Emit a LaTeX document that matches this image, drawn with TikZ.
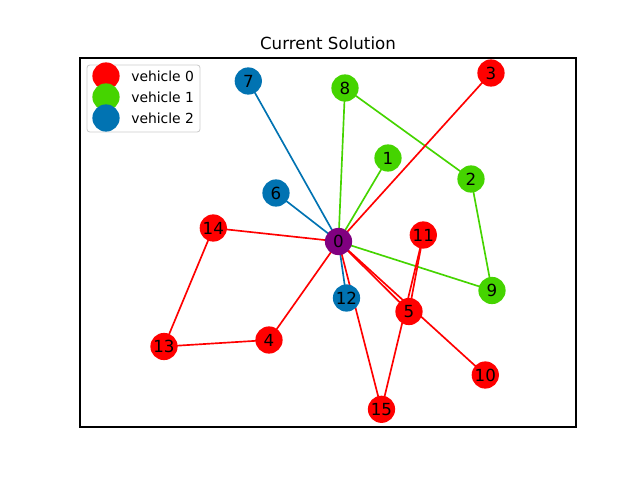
\documentclass[tikz,border=0pt]{standalone}
\usepackage{fontspec}
\setmainfont{DejaVu Sans}
\begin{document}
\begin{tikzpicture}[x=0.72pt,y=-0.72pt]
\definecolor{vred}{HTML}{FF0000}
\definecolor{vgreen}{HTML}{45D400}
\definecolor{vblue}{HTML}{0173B2}
\definecolor{vpurple}{HTML}{800080}
\tikzset{
  vnode/.style={circle,minimum size=19.6pt,inner sep=0pt,font=\fontsize{12}{14}\selectfont},
  rn/.style={vnode,fill=vred},
  gn/.style={vnode,fill=vgreen},
  bn/.style={vnode,fill=vblue},
  dn/.style={vnode,fill=vpurple},
  re/.style={draw=vred,line width=1.2pt},
  ge/.style={draw=vgreen,line width=1.2pt},
  be/.style={draw=vblue,line width=1.2pt},
  lmark/.style={circle,minimum size=19.6pt,inner sep=0pt},
  ltext/.style={anchor=west,font=\fontsize{10}{12}\selectfont,inner sep=0pt}
}
\useasboundingbox (0,0) rectangle (640,480);
\node[font=\fontsize{12}{14}\selectfont] (title) at (328,43) {Current Solution};
\draw[line width=0.8pt] (80,58) rectangle (576,427);
% node positions
\coordinate (p0) at (338.5,241.5);
\coordinate (p1) at (388,158);
\coordinate (p2) at (471,179);
\coordinate (p3) at (491,73);
\coordinate (p4) at (269,340);
\coordinate (p5) at (409,311.5);
\coordinate (p6) at (276,193);
\coordinate (p7) at (248.3,81);
\coordinate (p8) at (345,88);
\coordinate (p9) at (492,290.5);
\coordinate (p10) at (485.3,375);
\coordinate (p11) at (423.3,235);
\coordinate (p12) at (346.5,298);
\coordinate (p13) at (164,346.5);
\coordinate (p14) at (213.3,228);
\coordinate (p15) at (381.5,409.3);
% edges
\draw[be] (p0) -- (p7);
\draw[be] (p0) -- (p6);
\draw[be] (p0) -- (p12);
\draw[ge] (p0) -- (p8);
\draw[ge] (p8) -- (p2);
\draw[ge] (p2) -- (p9);
\draw[ge] (p9) -- (p0);
\draw[ge] (p0) -- (p1);
\draw[re] (p0) -- (p3);
\draw[re] (p0) -- (p14);
\draw[re] (p14) -- (p13);
\draw[re] (p13) -- (p4);
\draw[re] (p4) -- (p0);
\draw[re] (p0) -- (p5);
\draw[re] (p0) -- (p10);
\draw[re] (p5) -- (p11);
\draw[re] (p11) -- (p15);
\draw[re] (p15) -- (p0);
% nodes
\node[dn] (n0) at (p0) {0};
\node[gn] (n1) at (p1) {1};
\node[gn] (n2) at (p2) {2};
\node[rn] (n3) at (p3) {3};
\node[rn] (n4) at (p4) {4};
\node[rn] (n5) at (p5) {5};
\node[bn] (n6) at (p6) {6};
\node[bn] (n7) at (p7) {7};
\node[gn] (n8) at (p8) {8};
\node[gn] (n9) at (p9) {9};
\node[rn] (n10) at (p10) {10};
\node[rn] (n11) at (p11) {11};
\node[bn] (n12) at (p12) {12};
\node[rn] (n13) at (p13) {13};
\node[rn] (n14) at (p14) {14};
\node[rn] (n15) at (p15) {15};
% legend
\draw[draw=black!20,fill=white,rounded corners=2pt,line width=0.6pt] (87,65) rectangle (200,132);
\node[lmark,fill=vred] (l0) at (106,76) {};
\node[lmark,fill=vgreen] (l1) at (106,97) {};
\node[lmark,fill=vblue] (l2) at (106,118) {};
\node[ltext] (t0) at (131,76) {vehicle 0};
\node[ltext] (t1) at (131,97) {vehicle 1};
\node[ltext] (t2) at (131,118) {vehicle 2};
\end{tikzpicture}
\end{document}
